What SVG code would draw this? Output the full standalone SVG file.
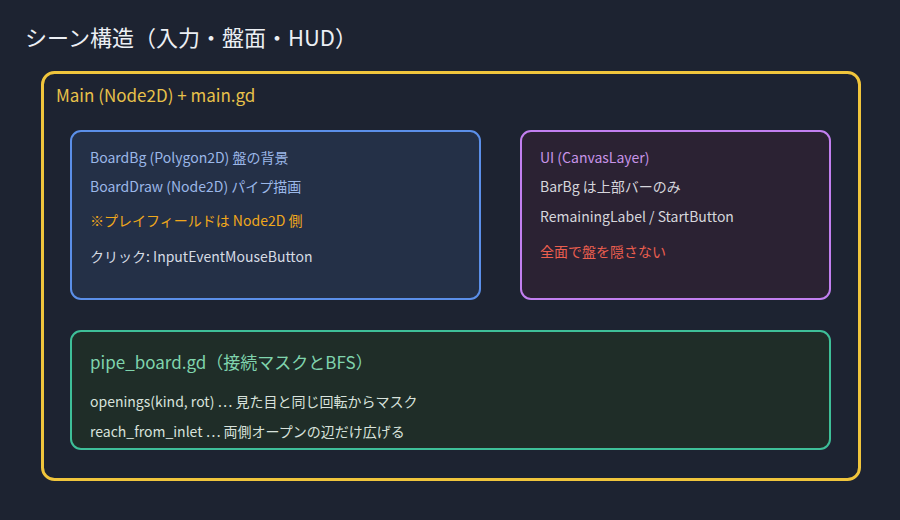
<svg xmlns="http://www.w3.org/2000/svg" width="900" height="520" viewBox="0 0 900 520">
<style>
text{font-family:"Noto Sans CJK JP","Noto Sans",sans-serif;}
.t14{font-size:14px;}
.box{stroke-width:2;}
</style>
<rect x="0" y="0" width="900" height="520" fill="#1d2331"/>
<text x="25" y="46" font-size="22" fill="#eceff4">シーン構造（入力・盤面・HUD）</text>
<g id="main">
<rect x="42.5" y="72.5" width="817" height="407" rx="12" fill="none" stroke="#f0c53c" stroke-width="3"/>
<text x="56" y="102" font-size="17" fill="#e8c14a">Main (Node2D) + main.gd</text>
</g>
<g id="board">
<rect class="box" x="71" y="131" width="409" height="168" rx="10" fill="#243047" stroke="#5b8fe9"/>
<text class="t14" x="90" y="163" fill="#9bb7e8">BoardBg (Polygon2D) 盤の背景</text>
<text class="t14" x="90" y="192" fill="#9bb7e8">BoardDraw (Node2D) パイプ描画</text>
<text class="t14" x="90" y="226" fill="#f0a81c">※プレイフィールドは Node2D 側</text>
<text class="t14" x="90" y="262" fill="#d6dbe4">クリック: InputEventMouseButton</text>
</g>
<g id="ui">
<rect class="box" x="521" y="131" width="309" height="168" rx="10" fill="#2b2233" stroke="#c27ff0"/>
<text class="t14" x="540" y="163" fill="#c894e8">UI (CanvasLayer)</text>
<text class="t14" x="540" y="192" fill="#d6d6dc">BarBg は上部バーのみ</text>
<text class="t14" x="540" y="222" fill="#d6d6dc">RemainingLabel / StartButton</text>
<text class="t14" x="540" y="257" fill="#ec5f4f">全面で盤を隠さない</text>
</g>
<g id="pipe_board">
<rect class="box" x="71" y="331" width="759" height="118" rx="10" fill="#1f2d28" stroke="#3ebf98"/>
<text x="90" y="369" font-size="17" fill="#7fd4ad">pipe_board.gd（接続マスクとBFS）</text>
<text class="t14" x="90" y="407" fill="#d8e2dc">openings(kind, rot) … 見た目と同じ回転からマスク</text>
<text class="t14" x="90" y="437" fill="#d8e2dc">reach_from_inlet … 両側オープンの辺だけ広げる</text>
</g>
<g id="connectors"></g>
</svg>
